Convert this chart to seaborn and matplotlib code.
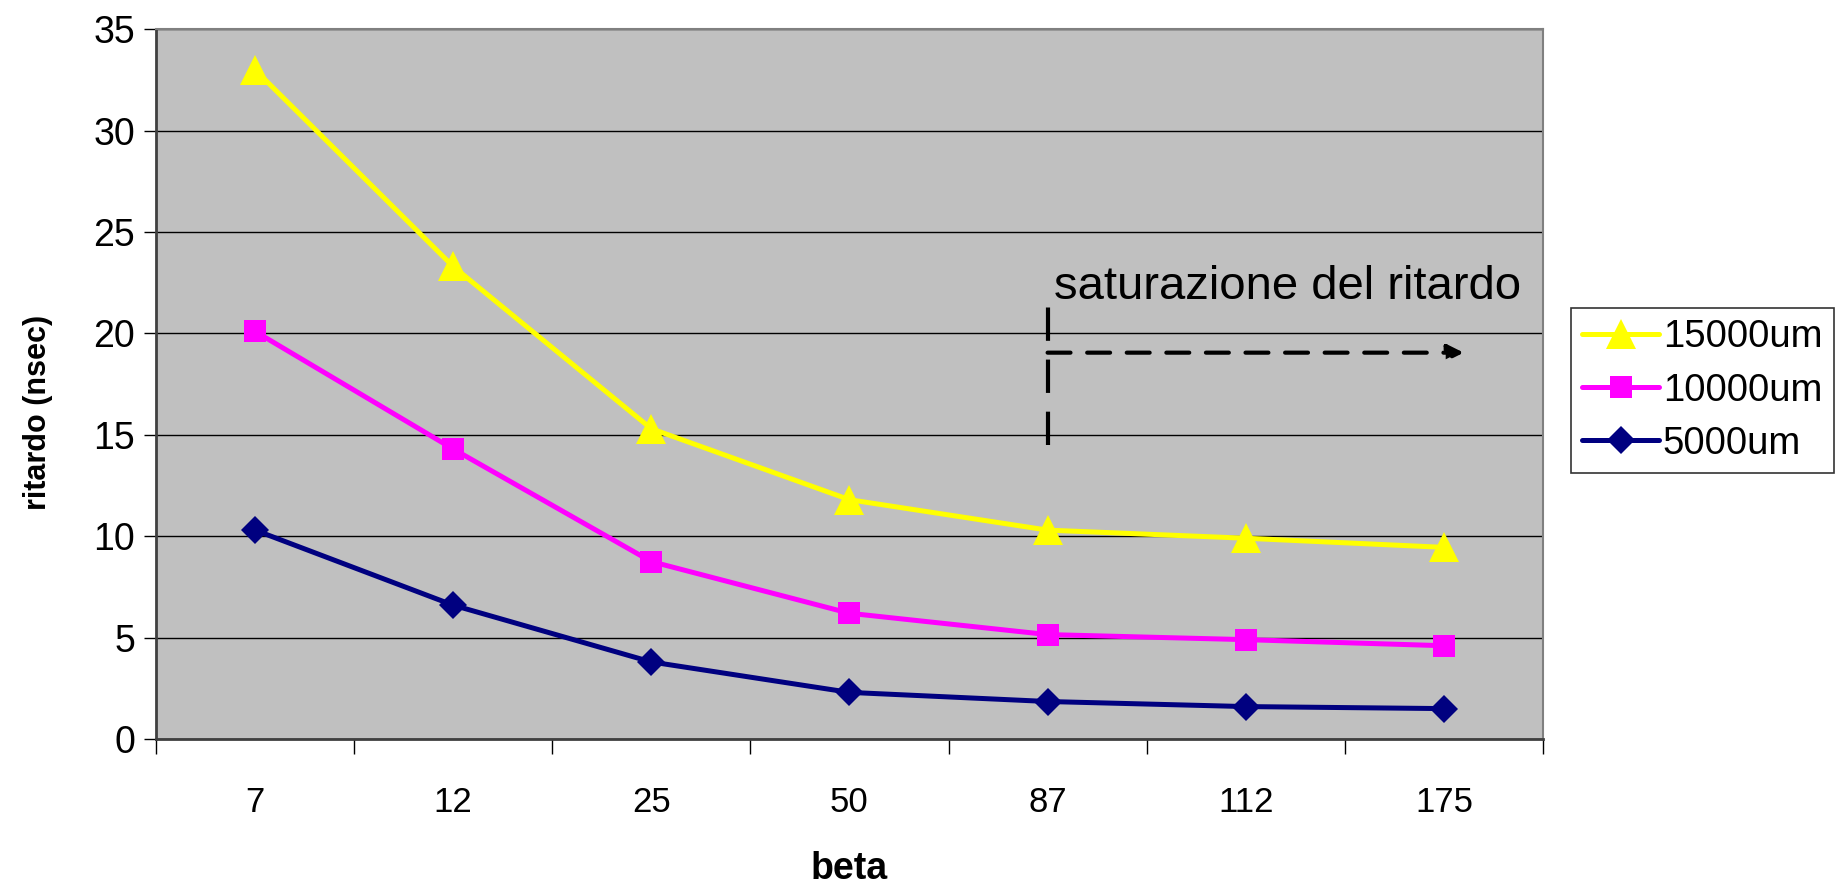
import matplotlib
matplotlib.use("Agg")
import matplotlib.pyplot as plt
from matplotlib.lines import Line2D
import seaborn as sns
import pandas as pd

# ---- data ----
beta = ["7", "12", "25", "50", "87", "112", "175"]
r15000 = [33.0, 23.3, 15.3, 11.8, 10.3, 9.9, 9.45]
r10000 = [20.1, 14.3, 8.75, 6.2, 5.15, 4.9, 4.6]
r5000 = [10.3, 6.6, 3.8, 2.3, 1.85, 1.6, 1.5]
series_names = ["15000um", "10000um", "5000um"]
y_ticks = [0, 5, 10, 15, 20, 25, 30, 35]
annot_text = "saturazione del ritardo"

colors = {"15000um": "#FFFF00", "10000um": "#FF00FF", "5000um": "#000080"}
markers = {"15000um": "^", "10000um": "s", "5000um": "D"}
msizes = {"15000um": 21, "10000um": 16, "5000um": 14}

df = pd.concat([
    pd.DataFrame({"beta": beta, "ritardo": vals, "serie": name})
    for name, vals in zip(series_names, [r15000, r10000, r5000])
])

sns.set_theme(style="white")
plt.rcParams["font.family"] = ["Liberation Sans", "DejaVu Sans"]
for k in ["text.color", "axes.labelcolor", "xtick.color", "ytick.color"]:
    plt.rcParams[k] = "black"

fig = plt.figure(figsize=(18.43, 8.84), dpi=100)
ax = fig.add_axes([0.0846, 0.164, 0.7526, 0.803])
ax.set_facecolor("#C0C0C0")

for name in series_names:
    sub = df[df["serie"] == name]
    sns.lineplot(data=sub, x="beta", y="ritardo", ax=ax, color=colors[name],
                 marker=markers[name], markersize=msizes[name],
                 markeredgecolor=colors[name], markeredgewidth=0,
                 linewidth=3.6, sort=False, legend=False, zorder=3)

n = len(beta)
ax.set_xlim(-0.5, n - 0.5)
ax.set_ylim(0, 35)
ax.set_yticks(y_ticks)
ax.set_yticklabels([str(t) for t in y_ticks], fontsize=27)
ax.grid(axis="y", color="black", linewidth=1.0, zorder=1)
ax.set_axisbelow(True)

# x ticks: marks at category boundaries, labels at centres
ax.set_xticks([i - 0.5 for i in range(n + 1)])
ax.set_xticklabels([""] * (n + 1))
ax.set_xticks(range(n), minor=True)
ax.set_xticklabels(beta, minor=True, fontsize=25)
ax.tick_params(axis="x", which="major", direction="out", length=11, width=1,
               color="black", bottom=True)
ax.tick_params(axis="x", which="minor", length=0, pad=34)
ax.tick_params(axis="y", direction="out", length=9, width=1, color="black",
               left=True, pad=6)

for s in ["left", "bottom"]:
    ax.spines[s].set_color("#404040")
    ax.spines[s].set_linewidth(2)
for s in ["top", "right"]:
    ax.spines[s].set_color("#808080")
    ax.spines[s].set_linewidth(1.5)

ax.set_xlabel("beta", fontsize=27, fontweight="bold")
ax.xaxis.set_label_coords(0.5, -0.158)
ax.set_ylabel("ritardo (nsec)", fontsize=22, fontweight="bold")
ax.yaxis.set_label_coords(-0.074, 0.46)

# annotation
ax.text(4.03, 21.7, annot_text, fontsize=34, ha="left", va="baseline", zorder=4)
ax.plot([4, 4], [14.5, 21.3], color="black", linestyle=(0, (8, 4.5)),
        linewidth=3, zorder=4)
ax.annotate("", xy=(6.1, 19.05), xytext=(4, 19.05),
            arrowprops=dict(arrowstyle="-|>", color="black", lw=3,
                            linestyle=(0, (5.5, 4)), mutation_scale=24,
                            shrinkA=0, shrinkB=0),
            zorder=4)

handles = [Line2D([], [], color=colors[nm], marker=markers[nm],
                  markersize=msizes[nm], markeredgewidth=0, linewidth=3.6)
           for nm in series_names]
leg = fig.legend(handles, series_names, loc="upper left",
                 bbox_to_anchor=(0.8524, 0.6516), fontsize=27.5,
                 frameon=True, fancybox=False, edgecolor="black",
                 handlelength=2.0, handletextpad=0.1, labelspacing=0.45,
                 borderpad=0.3, borderaxespad=0)
leg.get_frame().set_linewidth(1.2)

fig.savefig("out.png", dpi=100)
